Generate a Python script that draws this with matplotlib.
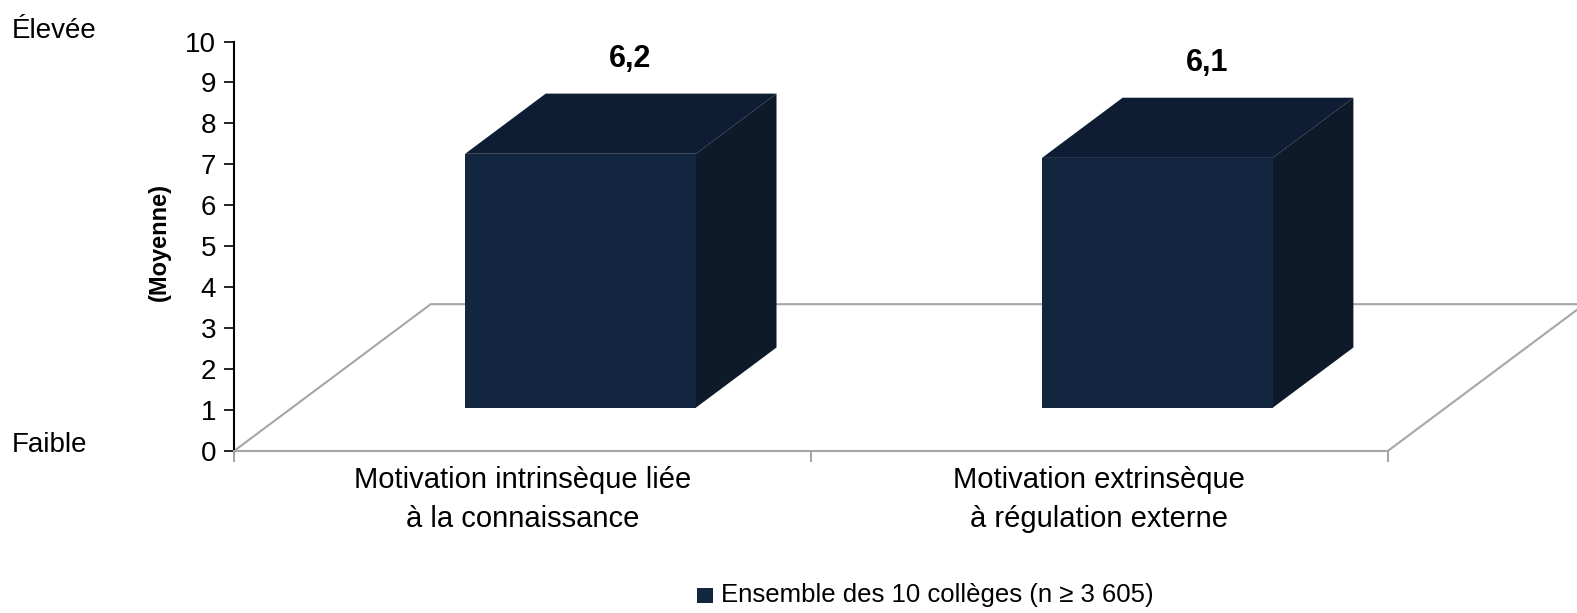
import matplotlib.pyplot as plt
from matplotlib.patches import Polygon, Rectangle

categories = ['Motivation intrinsèque liée\nà la connaissance',
              'Motivation extrinsèque\nà régulation externe']
values = [6.2, 6.1]
value_labels = ['6,2', '6,1']
legend_label = 'Ensemble des 10 collèges (n ≥ 3 605)'

plt.rcParams['font.family'] = ['Liberation Sans', 'DejaVu Sans']

# 3d look: floor depth vector (data units) and bar placement in that depth
floor_dx, floor_dy = 0.341, 3.585
bar_start, bar_depth, bar_w = 0.295, 0.41, 0.4
c_front, c_top, c_side = '#12263f', '#0e1d33', '#0e1929'
grey = '#a6a6a6'

fig = plt.figure(figsize=(15.77, 6.13), dpi=100)
ax = fig.add_axes([234/1577, (613-451)/613, (1577-234)/1577, (451-41.5)/613])
ax.set_xlim(0, 2.328)
ax.set_ylim(0, 10)

# floor outline
n = len(categories)
ax.plot([0, floor_dx, n + floor_dx, n], [0, floor_dy, floor_dy, 0],
        color=grey, lw=1.5, zorder=1)

for i, v in enumerate(values):
    x0 = i + 0.5 - bar_w / 2 + bar_start * floor_dx
    y0 = bar_start * floor_dy
    ddx, ddy = bar_depth * floor_dx, bar_depth * floor_dy
    ax.add_patch(Polygon([(x0, y0 + v), (x0 + ddx, y0 + v + ddy),
                          (x0 + bar_w + ddx, y0 + v + ddy), (x0 + bar_w, y0 + v)],
                         closed=True, fc=c_top, ec='none', zorder=3))
    ax.add_patch(Polygon([(x0 + bar_w, y0), (x0 + bar_w + ddx, y0 + ddy),
                          (x0 + bar_w + ddx, y0 + v + ddy), (x0 + bar_w, y0 + v)],
                         closed=True, fc=c_side, ec='none', zorder=3))
    ax.add_patch(Rectangle((x0, y0), bar_w, v, fc=c_front, ec='none', zorder=4))
    ax.text(x0 + bar_w / 2 + ddx * 0.62, y0 + v + ddy + 0.66, value_labels[i],
            ha='center', va='baseline', fontsize=22, fontweight='bold')

for s in ['top', 'right']:
    ax.spines[s].set_visible(False)
ax.spines['left'].set_color('black')
ax.spines['left'].set_linewidth(1.5)
ax.spines['bottom'].set_color(grey)
ax.spines['bottom'].set_linewidth(1.5)
ax.spines['bottom'].set_bounds(0, n)

ax.set_yticks(range(0, 11))
ax.tick_params(axis='y', length=7, width=1.2, pad=6, labelsize=20)
ax.set_xticks(range(0, n + 1))
ax.set_xticklabels([])
ax.tick_params(axis='x', which='major', length=8, width=1.5, color=grey)
ax.set_xticks([i + 0.5 for i in range(n)], minor=True)
ax.set_xticklabels(categories, minor=True, fontsize=21, linespacing=1.5)
ax.tick_params(axis='x', which='minor', length=0, pad=11)

fig.text(159/1577, 1 - 242/613, '(Moyenne)', rotation=90, ha='center', va='center',
         fontsize=17, fontweight='bold')
fig.text(12/1577, 1 - 31/613, 'Élevée', ha='left', va='center', fontsize=20)
fig.text(12/1577, 1 - 445/613, 'Faible', ha='left', va='center', fontsize=20)

# legend
fig.patches.append(Rectangle((697/1577, 1 - 603/613), 16/1577, 15/613,
                             transform=fig.transFigure, fc=c_front, ec='none'))
fig.text(721/1577, 1 - 595/613, legend_label, ha='left', va='center', fontsize=18.5)

fig.savefig('out.png', dpi=100)
